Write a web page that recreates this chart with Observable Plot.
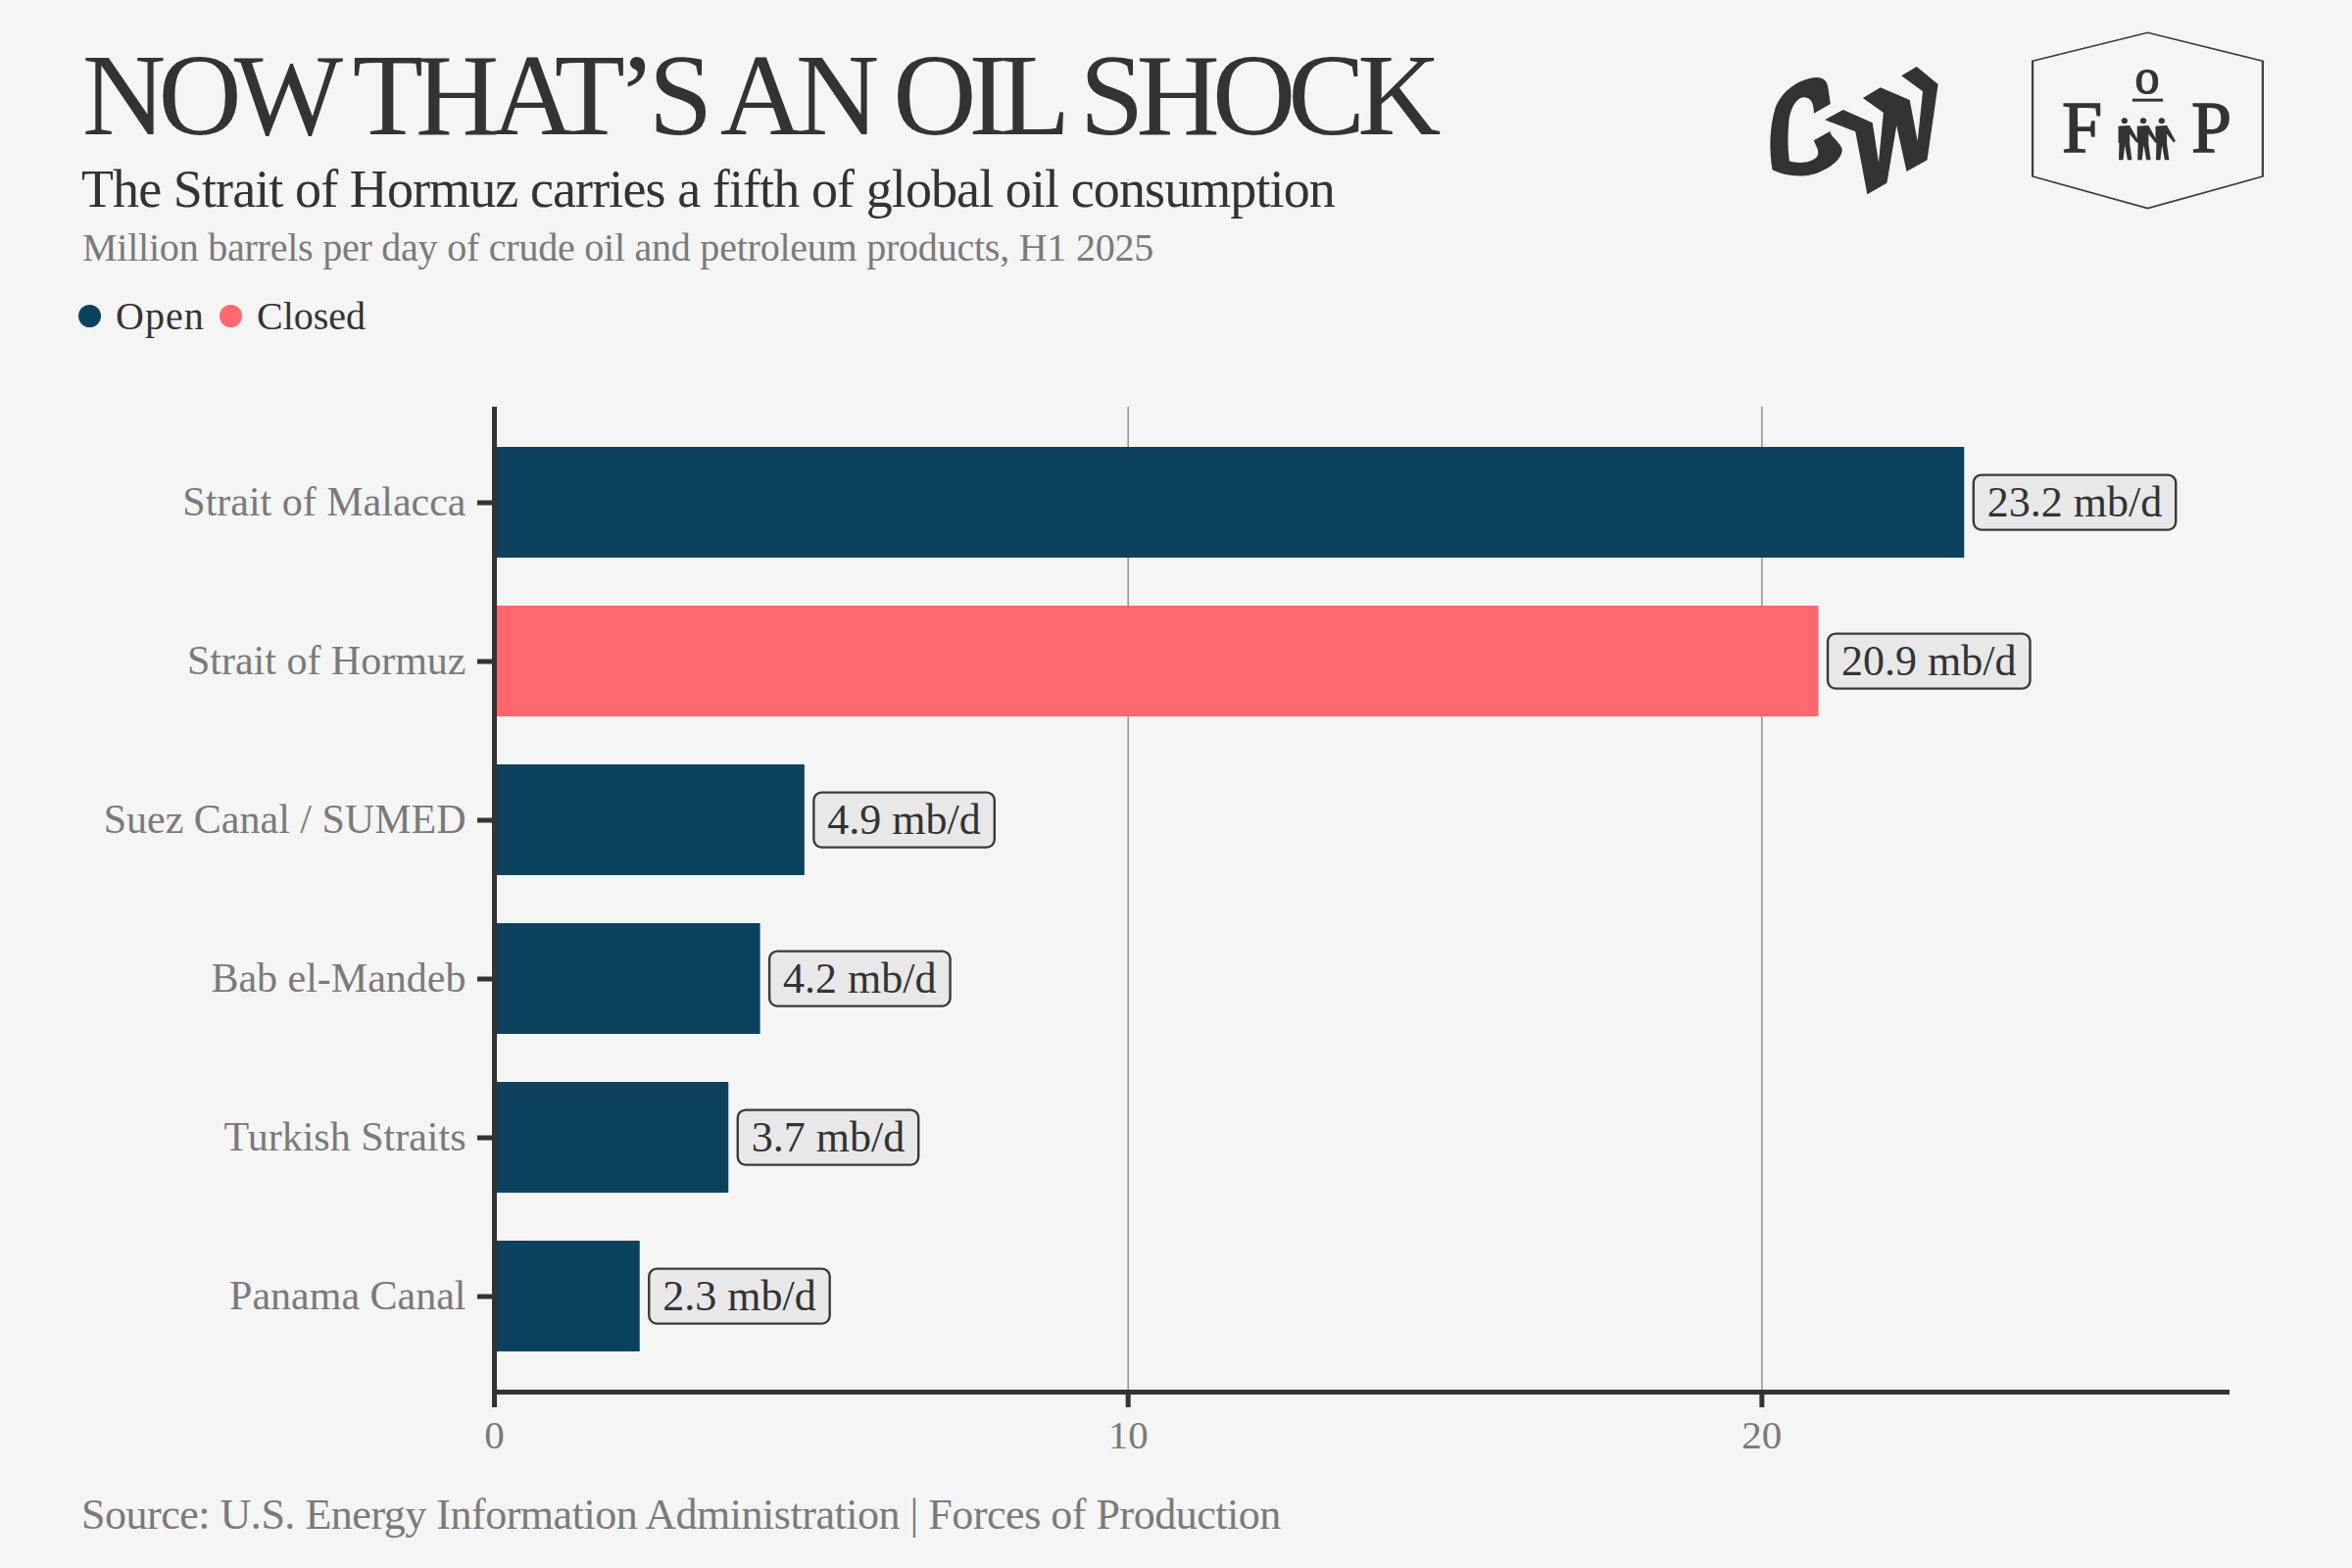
<!DOCTYPE html>
<html>
<head>
<meta charset="utf-8">
<script src="https://cdn.jsdelivr.net/npm/d3@7"></script>
<script src="https://cdn.jsdelivr.net/npm/@observablehq/plot@0.6"></script>
<style>
  html,body{margin:0;padding:0;background:#f5f5f5;}
  body{width:2400px;height:1600px;overflow:hidden;font-family:"Liberation Serif",serif;color:#333;}
  #header{position:relative;width:2400px;height:400px;}
  #header div,#footer div{position:absolute;white-space:nowrap;line-height:1;}
  #title{left:84px;top:39px;font-size:118px;letter-spacing:-7.8px;color:#333;}
  #subtitle{left:83px;top:165.5px;font-size:54px;letter-spacing:-.9px;color:#333;}
  #desc{left:84px;top:233px;font-size:40px;letter-spacing:-.23px;color:#7a7a7a;}
  .leg{top:303px;font-size:40px;color:#333;}
  .dot{width:23px;height:23px;border-radius:50%;top:311px;}
  #logos{position:absolute;left:1700px;top:0;}
  #chart{position:relative;width:2400px;height:1100px;}
  #chart svg{display:block;background:transparent;}
  #footer{position:relative;width:2400px;height:100px;}
  #source{left:83px;top:24px;font-size:44px;letter-spacing:-.48px;color:#7a7a7a;}
</style>
</head>
<body>
<div id="header">
  <div id="title">NOW THAT’S AN OIL SHOCK</div>
  <div id="subtitle">The Strait of Hormuz carries a fifth of global oil consumption</div>
  <div id="desc">Million barrels per day of crude oil and petroleum products, H1 2025</div>
  <div class="dot" style="left:80px;background:#0c425e"></div>
  <div class="leg" style="left:118px;letter-spacing:1px">Open</div>
  <div class="dot" style="left:224px;background:#ff686e"></div>
  <div class="leg" style="left:262px">Closed</div>
  <svg id="logos" width="700" height="300" viewBox="0 0 700 300">
    <g transform="scale(0.4464,0.3333)" fill="#333">
      <path d="M243,520 C236,460 236,390 250,330 C262,285 300,240 345,237 C362,238 368,250 370,265 L376,318 L338,347 C338,325 335,298 315,298 C295,300 284,340 281,370 C278,410 278,455 282,493 C300,500 330,502 345,480 C352,465 345,455 338,430 L375,402 C376,420 400,435 403,460 C400,490 375,515 345,530 C310,545 275,540 243,520 Z"/>
      <path d="M363,367 L405,336 L472,376 L486,497 L497,345 L450,300 L490,268 L557,306 L575,432 L587,280 L538,232 L573,204 L622,258 L597,490 L550,525 L527,385 L505,560 L460,595 L433,403 Z"/>
      <polygon points="838,187 1101,100 1364,187 1364,540 1101,638 838,540" fill="none" stroke="#3d3d3d" stroke-width="5"/>
      <g id="person" transform="translate(1048,0)">
        <ellipse cx="0" cy="370" rx="7" ry="9"/>
        <path d="M-14,386 L12,384 L32,432 L27,436 L12,410 L12,440 L17,490 L7,490 L1,445 L-3,490 L-13,490 L-12,438 L-14,438 Z"/>
      </g>
      <use href="#person" x="43"/>
      <use href="#person" x="85"/>
      <rect x="1066" y="302" width="70" height="9"/>
    </g>
    <text x="404" y="155" font-family="Liberation Serif" font-size="74" fill="#333" stroke="#333" stroke-width="1.4">F</text>
    <text x="491" y="95" text-anchor="middle" font-family="Liberation Serif" font-size="50" fill="#333" stroke="#333" stroke-width="1.2">o</text>
    <text x="536" y="155" font-family="Liberation Serif" font-size="74" fill="#333" stroke="#333" stroke-width="1.4">P</text>
  </svg>
</div>
<div id="chart"></div>
<div id="footer"><div id="source">Source: U.S. Energy Information Administration | Forces of Production</div></div>
<script>
const straits = ["Strait of Malacca","Strait of Hormuz","Suez Canal / SUMED","Bab el-Mandeb","Turkish Straits","Panama Canal"];
const flows = [23.2,20.9,4.9,4.2,3.7,2.3];
const statuses = ["Open","Closed","Open","Open","Open","Open"];
const statusDomain = ["Open","Closed"];
const statusColors = ["#0c425e","#ff686e"];
const xTicks = [0,10,20];
const gridTicks = [10,20];
const rows = straits.map((s,i)=>({strait:s,value:flows[i],status:statuses[i]}));
const dark = "#333333", grey = "#7a7a7a", font = "Liberation Serif";

const plot = Plot.plot({
  width:2400, height:1100,
  marginTop:15, marginBottom:80, marginLeft:504, marginRight:128,
  style:{background:"transparent",fontFamily:font,overflow:"visible"},
  x:{domain:[0,27.34],label:null},
  y:{domain:straits,paddingInner:0.3,paddingOuter:0.25,label:null},
  color:{domain:statusDomain,range:statusColors},
  marks:[
    Plot.gridX(gridTicks,{stroke:"#8a8a8a",strokeOpacity:1,strokeWidth:1.4}),
    Plot.barX(rows,{x:"value",y:"strait",fill:"status"}),
    Plot.text(rows,{x:"value",y:"strait",text:d=>`${d.value.toFixed(1)} mb/d`,dx:23,textAnchor:"start",fontSize:44,fill:dark,className:"vlabel"}),
    Plot.axisY({tickSize:17,tickPadding:12,stroke:dark,strokeWidth:5,fill:grey,fontSize:42,label:null}),
    Plot.axisX(xTicks,{tickSize:16,tickPadding:12,stroke:dark,strokeWidth:5,fill:grey,fontSize:41,label:null,tickFormat:d=>String(d)}),
    Plot.ruleX([0],{stroke:dark,strokeWidth:5}),
    Plot.frame({anchor:"bottom",stroke:dark,strokeWidth:5})
  ]
});
document.getElementById("chart").appendChild(plot);
// rounded label boxes sized from the rendered text
d3.select(plot).selectAll(".vlabel text").each(function(){
  const b=this.getBBox();
  const m=this.getAttribute("transform");
  const r=document.createElementNS("http://www.w3.org/2000/svg","rect");
  r.setAttribute("x",b.x-14); r.setAttribute("y",b.y+b.height/2-28);
  r.setAttribute("width",b.width+28); r.setAttribute("height",56);
  r.setAttribute("rx",8);
  r.setAttribute("fill","#e8e8e8"); r.setAttribute("stroke","#3a3a3a"); r.setAttribute("stroke-width",2.4);
  if(m) r.setAttribute("transform",m);
  this.parentNode.insertBefore(r,this);
});
</script>
</body>
</html>
